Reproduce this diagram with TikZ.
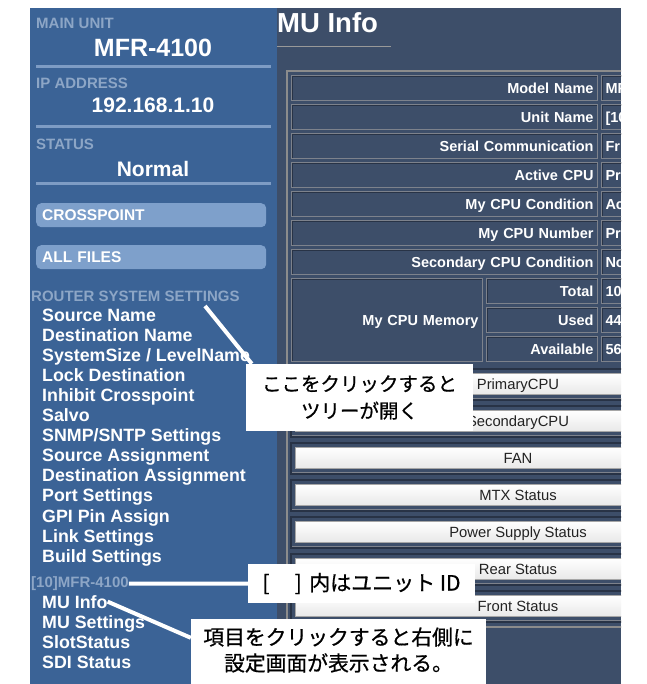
\documentclass[tikz,border=0pt]{standalone}
\usepackage{fontspec}
\setmainfont{Liberation Sans}
\newfontfamily\jpfont[FakeBold=0.7]{Noto Sans CJK JP}
\usepackage{xcolor}
\usepackage{tikz}
\usetikzlibrary{positioning}

\definecolor{sidebarblue}{RGB}{59,99,150}
\definecolor{panelslate}{RGB}{61,78,105}
\definecolor{dimlabel}{RGB}{141,166,198}
\definecolor{ruleblue}{RGB}{126,156,196}
\definecolor{navbutton}{RGB}{126,160,203}
\definecolor{cellshade}{RGB}{40,51,70}
\definecolor{celledge}{RGB}{125,130,140}
\definecolor{framegray}{RGB}{140,140,140}
\definecolor{btntext}{RGB}{34,34,34}

\newcommand{\sizept}[1]{\fontsize{#1}{#1}\selectfont}

\tikzset{
  dimhead/.style={anchor=base west,inner sep=0pt,text=dimlabel,font=\bfseries\sizept{15}},
  menuitem/.style={anchor=base west,inner sep=0pt,text=white,font=\bfseries\sizept{17.8}},
  bigvalue/.style={anchor=base,inner sep=0pt,text=white,font=\bfseries\sizept{#1}},
  sidesep/.style={ruleblue,line width=3pt},
  navbtn/.style={anchor=north west,fill=navbutton,rounded corners=5pt,minimum width=230pt,
    minimum height=24pt,text width=218pt,inner xsep=6pt,inner ysep=0pt,align=left,
    text height=11pt,text depth=0pt,text=white,font=\bfseries\sizept{15.5}},
  infocell/.style={draw=celledge,line width=1pt,anchor=north west,inner xsep=4pt,inner ysep=0pt,
    minimum height=25pt,text width=#1,text height=10.4pt,text depth=0pt,text=white,
    font=\bfseries\sizept{14.5},
    path picture={\draw[cellshade,line width=3pt] (path picture bounding box.south west)
      -- (path picture bounding box.north west) -- (path picture bounding box.north east);}},
  labelcell/.style={infocell=#1,align=right},
  valuecell/.style={infocell=#1,align=left},
  groupframe/.style={cellshade,line width=2pt},
  pagebtn/.style={draw=black!35,top color=white,bottom color=black!9,minimum width=446pt,
    minimum height=21pt,inner sep=0pt,text height=10.6pt,text depth=0pt,text=btntext,
    font=\sizept{14.8}},
  callout/.style={fill=white,text=black,inner sep=0pt,align=center},
  pointer/.style={white,line width=4pt},
}

\begin{document}
\begin{tikzpicture}[x=1pt,y=-1pt]
\useasboundingbox (0,0) rectangle (646,684);
\fill[white] (0,0) rectangle (646,684);

% side menu
\fill[sidebarblue] (30,8) rectangle (277,684);
\node[dimhead] (mainunit) at (36,28.5) {MAIN UNIT};
\node[bigvalue=25] (unitmodel) at (153,57) {MFR-4100};
\draw[sidesep] (36,67) -- (271,67);
\node[dimhead] (ipaddr) at (36,88.5) {IP ADDRESS};
\node[bigvalue=21] (ipvalue) at (153,113) {192.168.1.10};
\draw[sidesep] (36,127) -- (271,127);
\node[dimhead] (status) at (36,149.5) {STATUS};
\node[bigvalue=21] (statusvalue) at (153,177) {Normal};
\draw[sidesep] (36,184) -- (271,184);
\node[navbtn] (crosspoint) at (36,203) {CROSSPOINT};
\node[navbtn] (allfiles) at (36,245) {ALL FILES};
\node[dimhead] (rss) at (31,301) {ROUTER SYSTEM SETTINGS};
\foreach \entry [count=\k from 0] in {Source Name,Destination Name,SystemSize / LevelName,
  Lock Destination,Inhibit Crosspoint,Salvo,SNMP/SNTP Settings,Source Assignment,
  Destination Assignment,Port Settings,GPI Pin Assign,Link Settings,Build Settings}
  \node[menuitem] (rs\k) at (42,{321+20.1*\k}) {\entry};
\node[dimhead] (unitid) at (31,587.5) {[10]MFR-4100};
\foreach \entry [count=\k from 0] in {MU Info,MU Settings,SlotStatus,SDI Status}
  \node[menuitem] (mu\k) at (42,{608+20*\k}) {\entry};

% info page
\begin{scope}
\clip (277,8) rectangle (621,684);
\fill[panelslate] (277,8) rectangle (621,684);
\node[anchor=base west,inner sep=0pt,text=white,font=\bfseries\sizept{27.5}] (title) at (277,33) {MU Info};
\draw[black!40,line width=1pt] (277,47) -- (391,47);
\draw[framegray,line width=2pt] (287,71) rectangle (700,627);
\foreach \lbl/\val [count=\k from 0] in {Model Name/MF,Unit Name/{[10},Serial Communication/Fr,
  Active CPU/Pri,My CPU Condition/Ac,My CPU Number/Pri,Secondary CPU Condition/No}{
  \node[labelcell=298pt] (row\k) at (291,{75+29*\k}) {\lbl};
  \node[valuecell=60pt] (val\k) at (601,{75+29*\k}) {\val};
}
\node[labelcell=183pt,minimum height=83pt] (cpumem) at (291,278) {My CPU Memory};
\foreach \lbl/\val [count=\k from 0] in {Total/10,Used/44,Available/56}{
  \node[labelcell=103pt] (mem\k) at (486,{278+29*\k}) {\lbl};
  \node[valuecell=60pt] (memval\k) at (601,{278+29*\k}) {\val};
}
\foreach \btn [count=\k from 0] in {PrimaryCPU,SecondaryCPU,FAN,MTX Status,
  Power Supply Status,Rear Status,Front Status}{
  \draw[groupframe] (291,{384+37*\k-15.5}) rectangle (700,{384+37*\k+15.5});
  \draw[celledge] (292,{384+37*\k+14}) -- (700,{384+37*\k+14});
  \node[pagebtn] (btn\k) at (518,{384+37*\k}) {\btn};
}
\end{scope}

% callouts
\node[callout,minimum width=227pt,minimum height=67pt,font=\jpfont\fontsize{19.5}{27}\selectfont]
  (treetip) at (359.5,397.5) {ここをクリックすると\\ツリーが開く};
\coordinate (rsspoint) at (205,306);
\draw[pointer] (rsspoint) -- ([xshift=6pt]treetip.north west);
\node[callout,minimum width=227pt,minimum height=39pt,font=\jpfont\sizept{21}]
  (idtip) at (361.5,583.5) {[\hspace{1.2em}]\hspace{0.35em}内はユニット ID};
\draw[pointer] (unitid.east) -- (idtip.west);
\node[callout,minimum width=295pt,minimum height=62pt,font=\jpfont\fontsize{20.8}{26}\selectfont]
  (clicktip) at (338.5,650) {項目をクリックすると右側に\\設定画面が表示される。};
\fill[white] (clicktip.south west) rectangle ([yshift=-8pt]clicktip.south east);
\draw[pointer] (mu0.east) -- ([yshift=-19pt]clicktip.north west);
\end{tikzpicture}
\end{document}
